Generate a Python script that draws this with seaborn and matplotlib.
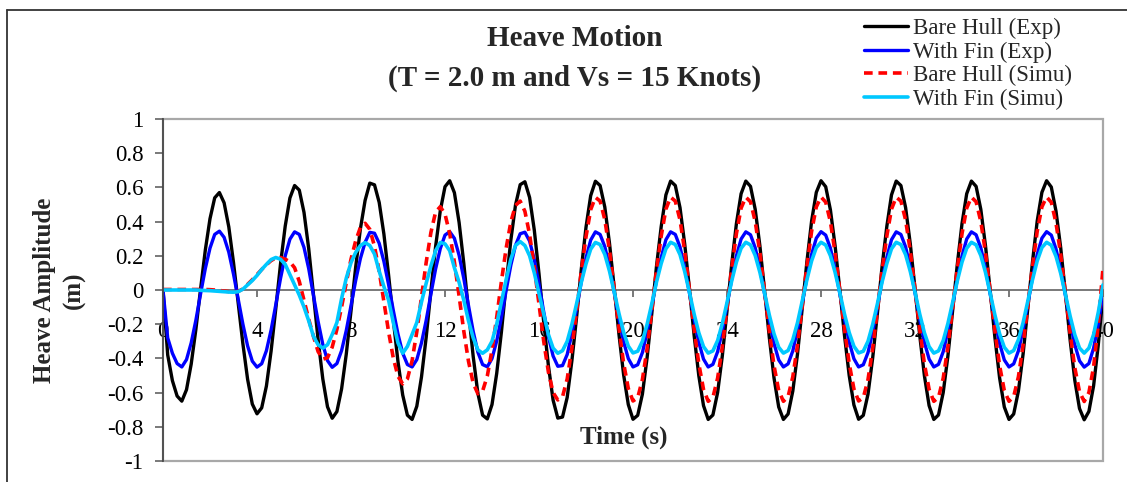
import numpy as np
import matplotlib
matplotlib.use("Agg")
import matplotlib.pyplot as plt
from matplotlib.lines import Line2D
from matplotlib.patches import Rectangle
import seaborn as sns

# Sampling instants of the heave records (s), every 0.2 s from 0 to 40 s
time_s = np.round(np.arange(0.0, 40.0 + 1e-9, 0.2), 1)

# Heave amplitude (m), one row per 2 s of record
bare_hull_exp = [
    0.0, -0.38, -0.53, -0.62, -0.65, -0.583, -0.433, -0.229, 0.007, 0.233,
    0.417, 0.539, 0.57, 0.51, 0.369, 0.161, -0.077, -0.315, -0.522, -0.667,
    -0.724, -0.689, -0.562, -0.357, -0.108, 0.151, 0.373, 0.538, 0.611, 0.584,
    0.454, 0.242, -0.022, -0.29, -0.52, -0.683, -0.75, -0.711, -0.578, -0.374,
    -0.123, 0.135, 0.358, 0.524, 0.625, 0.615, 0.512, 0.327, 0.087, -0.175,
    -0.42, -0.614, -0.732, -0.757, -0.68, -0.508, -0.276, -0.005, 0.254, 0.464,
    0.604, 0.639, 0.569, 0.395, 0.156, -0.123, -0.389, -0.605, -0.732, -0.754,
    -0.67, -0.488, -0.246, 0.03, 0.29, 0.497, 0.616, 0.633, 0.541, 0.35,
    0.095, -0.187, -0.442, -0.644, -0.749, -0.743, -0.628, -0.413, -0.158, 0.122,
    0.367, 0.552, 0.636, 0.611, 0.485, 0.273, 0.014, -0.256, -0.495, -0.67,
    -0.756, -0.733, -0.609, -0.396, -0.137, 0.139, 0.371, 0.556, 0.637, 0.611,
    0.482, 0.269, 0.009, -0.264, -0.501, -0.676, -0.757, -0.731, -0.6, -0.386,
    -0.122, 0.15, 0.388, 0.563, 0.637, 0.606, 0.472, 0.258, -0.005, -0.277,
    -0.514, -0.684, -0.757, -0.725, -0.591, -0.374, -0.108, 0.165, 0.403, 0.571,
    0.639, 0.604, 0.469, 0.258, 0.002, -0.266, -0.5, -0.672, -0.756, -0.733,
    -0.609, -0.396, -0.137, 0.139, 0.371, 0.556, 0.637, 0.611, 0.482, 0.269,
    0.009, -0.264, -0.501, -0.676, -0.757, -0.731, -0.6, -0.386, -0.122, 0.15,
    0.388, 0.563, 0.637, 0.606, 0.472, 0.258, -0.005, -0.277, -0.514, -0.684,
    -0.757, -0.725, -0.591, -0.374, -0.108, 0.165, 0.403, 0.571, 0.639, 0.602,
    0.461, 0.247, -0.018, -0.291, -0.528, -0.693, -0.759, -0.71, -0.56, -0.32,
    -0.03,
]

with_fin_exp = [
    0.0, -0.28, -0.37, -0.43, -0.45, -0.407, -0.309, -0.176, -0.022, 0.125,
    0.245, 0.325, 0.344, 0.308, 0.221, 0.093, -0.054, -0.2, -0.327, -0.416,
    -0.451, -0.431, -0.355, -0.234, -0.086, 0.067, 0.199, 0.297, 0.34, 0.325,
    0.249, 0.125, -0.028, -0.184, -0.318, -0.413, -0.452, -0.43, -0.354, -0.236,
    -0.092, 0.056, 0.184, 0.279, 0.337, 0.332, 0.273, 0.167, 0.031, -0.119,
    -0.258, -0.369, -0.436, -0.45, -0.407, -0.309, -0.177, -0.024, 0.123, 0.242,
    0.321, 0.341, 0.302, 0.203, 0.067, -0.091, -0.242, -0.364, -0.436, -0.449,
    -0.401, -0.298, -0.161, -0.004, 0.144, 0.261, 0.329, 0.338, 0.286, 0.178,
    0.033, -0.127, -0.272, -0.386, -0.446, -0.442, -0.377, -0.255, -0.11, 0.048,
    0.187, 0.292, 0.34, 0.325, 0.254, 0.134, -0.013, -0.166, -0.302, -0.401,
    -0.45, -0.437, -0.366, -0.246, -0.099, 0.058, 0.19, 0.294, 0.34, 0.325,
    0.252, 0.132, -0.016, -0.171, -0.305, -0.404, -0.45, -0.435, -0.361, -0.24,
    -0.09, 0.064, 0.199, 0.298, 0.34, 0.323, 0.247, 0.125, -0.024, -0.178,
    -0.312, -0.409, -0.45, -0.432, -0.356, -0.233, -0.082, 0.073, 0.208, 0.303,
    0.341, 0.321, 0.245, 0.125, -0.02, -0.172, -0.304, -0.402, -0.45, -0.437,
    -0.366, -0.246, -0.099, 0.058, 0.19, 0.294, 0.34, 0.325, 0.252, 0.132,
    -0.016, -0.171, -0.305, -0.404, -0.45, -0.435, -0.361, -0.24, -0.09, 0.064,
    0.199, 0.298, 0.34, 0.323, 0.247, 0.125, -0.024, -0.178, -0.312, -0.409,
    -0.45, -0.432, -0.356, -0.233, -0.082, 0.073, 0.208, 0.303, 0.341, 0.321,
    0.24, 0.119, -0.031, -0.186, -0.32, -0.414, -0.451, -0.43, -0.34, -0.2,
    -0.02,
]

bare_hull_simu = [
    0.003, 0.003, 0.003, 0.003, 0.003, 0.003, 0.003, 0.003, 0.003, 0.003,
    0.002, 0.0, -0.003, -0.006, -0.009, -0.012, -0.008, 0.006, 0.033, 0.06,
    0.09, 0.12, 0.148, 0.172, 0.188, 0.19, 0.18, 0.165, 0.13, 0.05,
    -0.06, -0.17, -0.27, -0.36, -0.405, -0.396, -0.334, -0.23, -0.099, 0.044,
    0.18, 0.288, 0.366, 0.39, 0.355, 0.256, 0.109, -0.067, -0.245, -0.398,
    -0.505, -0.549, -0.52, -0.413, -0.244, -0.041, 0.162, 0.336, 0.456, 0.487,
    0.444, 0.33, 0.163, -0.035, -0.241, -0.417, -0.545, -0.607, -0.591, -0.503,
    -0.351, -0.16, 0.049, 0.243, 0.397, 0.495, 0.52, 0.46, 0.325, 0.133,
    -0.084, -0.299, -0.48, -0.6, -0.643, -0.625, -0.52, -0.34, -0.125, 0.11,
    0.311, 0.47, 0.542, 0.52, 0.412, 0.231, 0.01, -0.222, -0.427, -0.576,
    -0.649, -0.63, -0.524, -0.342, -0.12, 0.116, 0.315, 0.473, 0.543, 0.52,
    0.41, 0.228, 0.005, -0.229, -0.431, -0.581, -0.651, -0.628, -0.516, -0.333,
    -0.107, 0.126, 0.329, 0.479, 0.543, 0.516, 0.401, 0.218, -0.007, -0.24,
    -0.442, -0.588, -0.651, -0.623, -0.508, -0.322, -0.095, 0.139, 0.343, 0.486,
    0.544, 0.514, 0.399, 0.218, -0.001, -0.23, -0.43, -0.578, -0.649, -0.63,
    -0.524, -0.342, -0.12, 0.116, 0.315, 0.473, 0.543, 0.52, 0.41, 0.228,
    0.005, -0.229, -0.431, -0.581, -0.651, -0.628, -0.516, -0.333, -0.107, 0.126,
    0.329, 0.479, 0.543, 0.516, 0.401, 0.218, -0.007, -0.24, -0.442, -0.588,
    -0.651, -0.623, -0.508, -0.322, -0.095, 0.139, 0.343, 0.486, 0.544, 0.513,
    0.392, 0.208, -0.018, -0.252, -0.454, -0.595, -0.652, -0.6, -0.45, -0.2,
    0.13,
]

with_fin_simu = [
    0.0, 0.0, 0.0, 0.0, 0.0, 0.0, 0.0, 0.0, -0.002, -0.003,
    -0.004, -0.006, -0.008, -0.01, -0.012, -0.013, -0.01, 0.005, 0.03, 0.055,
    0.085, 0.12, 0.15, 0.178, 0.19, 0.18, 0.15, 0.09, 0.03, -0.03,
    -0.1, -0.18, -0.27, -0.32, -0.34, -0.32, -0.26, -0.19, -0.05, 0.07,
    0.16, 0.22, 0.26, 0.277, 0.26, 0.21, 0.11, 0.02, -0.06, -0.19,
    -0.31, -0.37, -0.33, -0.26, -0.19, -0.07, 0.04, 0.14, 0.23, 0.278,
    0.27, 0.23, 0.13, 0.045, -0.06, -0.18, -0.28, -0.35, -0.37, -0.35,
    -0.3, -0.2, -0.07, 0.06, 0.18, 0.26, 0.283, 0.26, 0.2, 0.1,
    -0.02, -0.14, -0.26, -0.34, -0.37, -0.355, -0.3, -0.2, -0.08, 0.045,
    0.153, 0.239, 0.278, 0.266, 0.208, 0.11, -0.011, -0.136, -0.247, -0.328,
    -0.368, -0.358, -0.3, -0.201, -0.081, 0.047, 0.155, 0.241, 0.279, 0.266,
    0.207, 0.108, -0.013, -0.14, -0.25, -0.331, -0.369, -0.356, -0.296, -0.196,
    -0.074, 0.053, 0.163, 0.244, 0.279, 0.264, 0.202, 0.103, -0.02, -0.146,
    -0.256, -0.335, -0.369, -0.354, -0.291, -0.191, -0.067, 0.06, 0.17, 0.248,
    0.279, 0.263, 0.201, 0.103, -0.016, -0.141, -0.249, -0.329, -0.368, -0.358,
    -0.3, -0.201, -0.081, 0.047, 0.155, 0.241, 0.279, 0.266, 0.207, 0.108,
    -0.013, -0.14, -0.25, -0.331, -0.369, -0.356, -0.296, -0.196, -0.074, 0.053,
    0.163, 0.244, 0.279, 0.264, 0.202, 0.103, -0.02, -0.146, -0.256, -0.335,
    -0.369, -0.354, -0.291, -0.191, -0.067, 0.06, 0.17, 0.248, 0.279, 0.262,
    0.197, 0.097, -0.026, -0.152, -0.262, -0.339, -0.369, -0.34, -0.26, -0.13,
    0.03,
]

series_labels = ["Bare Hull (Exp)", "With Fin (Exp)", "Bare Hull (Simu)", "With Fin (Simu)"]
x_ticks = [0, 4, 8, 12, 16, 20, 24, 28, 32, 36, 40]
y_ticks = [-1.0, -0.8, -0.6, -0.4, -0.2, 0.0, 0.2, 0.4, 0.6, 0.8, 1.0]
y_tick_labels = ["-1", "-0.8", "-0.6", "-0.4", "-0.2", "0", "0.2", "0.4", "0.6", "0.8", "1"]

sns.set_theme(style="white")
plt.rcParams["font.family"] = ["Liberation Serif", "DejaVu Serif"]
plt.rcParams["axes.unicode_minus"] = False

W, H = 1127, 482
fig = plt.figure(figsize=(W / 100, H / 100), dpi=100)
fig.patch.set_facecolor("white")

# plot area in pixel terms: x 163..1103, y 119..461 (from top)
ax = fig.add_axes([163 / W, (H - 461) / H, 940 / W, 342 / H])
ax.set_facecolor("white")

styles = [
    dict(color="#000000", lw=2.4),
    dict(color="#0000FF", lw=2.4),
    dict(color="#FF0000", lw=2.6),
    dict(color="#00C8FF", lw=2.6),
]
all_series = [bare_hull_exp, with_fin_exp, bare_hull_simu, with_fin_simu]

for values, label, st in zip(all_series, series_labels, styles):
    sns.lineplot(x=time_s, y=values, ax=ax, label=label, color=st["color"],
                 linewidth=st["lw"], errorbar=None, sort=False)
    line = ax.lines[-1]
    line.set_solid_capstyle("round")
    line.set_solid_joinstyle("round")
    if label == "Bare Hull (Simu)":
        line.set_dashes((2.4, 1.6))
        line.set_dash_capstyle("butt")

if ax.get_legend() is not None:
    ax.get_legend().remove()

ax.set_xlim(0, 40)
ax.set_ylim(-1, 1)

# plot-area frame
ax.add_patch(Rectangle((0, 0), 1, 1, transform=ax.transAxes, fill=False,
                       edgecolor="#A8A8A8", lw=1.6, zorder=0.5, clip_on=False))
for side in ["top", "right"]:
    ax.spines[side].set_visible(False)
ax.spines["left"].set_color("#4A4A4A")
ax.spines["left"].set_linewidth(1.3)
ax.spines["bottom"].set_position(("data", 0))
ax.spines["bottom"].set_color("#6E6E6E")
ax.spines["bottom"].set_linewidth(1.3)
ax.spines["bottom"].set_zorder(0.6)

ax.set_xticks(x_ticks)
ax.set_xticklabels([str(v) for v in x_ticks])
ax.set_yticks(y_ticks)
ax.set_yticklabels(y_tick_labels)
ax.tick_params(axis="x", direction="out", length=5, width=1.1, color="#555555",
               pad=17, labelsize=16.5, labelcolor="black", bottom=True)
ax.tick_params(axis="y", direction="out", length=6, width=1.1, color="#555555",
               pad=8, labelsize=16.5, labelcolor="black", left=True)
ax.grid(False)

ax.set_xlabel("Time (s)", fontsize=18, fontweight="bold", va="center")
ax.xaxis.set_label_coords(0.49, 0.07)
ax.set_ylabel("Heave Amplitude\n(m)", fontsize=18, fontweight="bold",
              va="center", ha="center", multialignment="center", linespacing=1.35)
ax.yaxis.set_label_coords(-0.1106, 0.5)

fig.text(575 / W, 1 - 38 / H, "Heave Motion", ha="center", va="center",
         fontsize=21, fontweight="bold")
fig.text(575 / W, 1 - 78 / H, "(T = 2.0 m and Vs = 15 Knots)", ha="center",
         va="center", fontsize=21, fontweight="bold")

handles = ax.lines[:4]
fig.legend(handles, series_labels, loc="upper left",
           bbox_to_anchor=(864 / W, 1 - 18 / H), frameon=False, borderpad=0,
           borderaxespad=0, fontsize=16.5, handlelength=1.9, handletextpad=0.25,
           labelspacing=0.1)

# chart-area border
fig.add_artist(Line2D([7 / W, 7 / W], [0, 1 - 10 / H], transform=fig.transFigure,
                      color="#333333", lw=1.3))
fig.add_artist(Line2D([7 / W, 1], [1 - 10 / H, 1 - 10 / H], transform=fig.transFigure,
                      color="#333333", lw=1.3))

fig.savefig("out.png", dpi=100, facecolor="white")
